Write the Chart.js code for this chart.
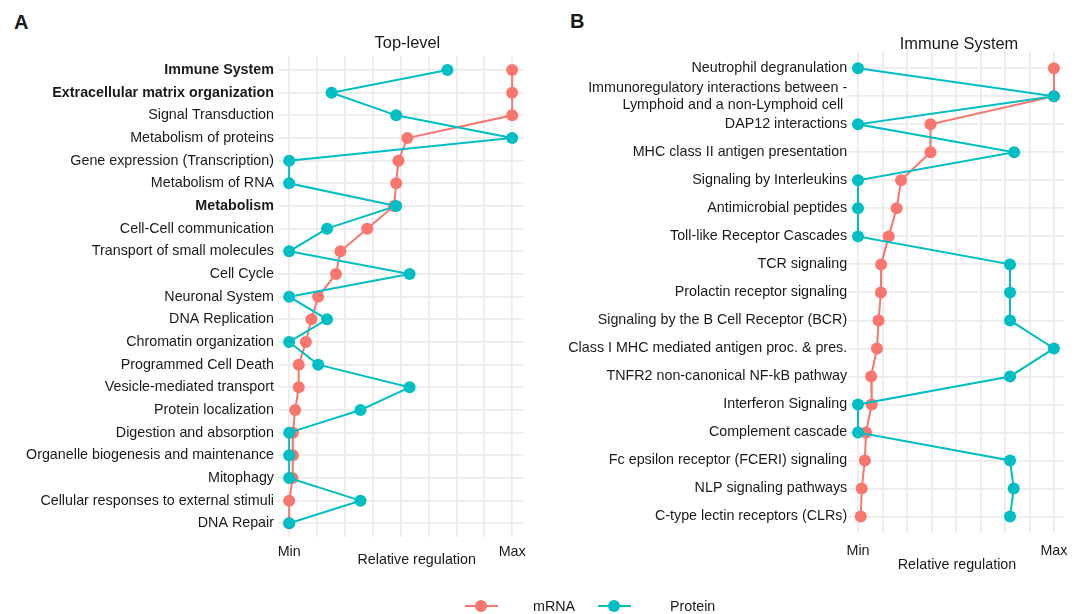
<!DOCTYPE html>
<html>
<head>
<meta charset="utf-8">
<title>Relative regulation</title>
<script src="https://cdn.jsdelivr.net/npm/chart.js@4.4.1/dist/chart.umd.min.js"></script>
<style>
    body {
        margin: 0;
        width: 1077px;
        height: 614px;
        overflow: hidden;
        position: relative;
        background: #fff;
        font-family: 'Liberation Sans', Arial, sans-serif;
        color: #1a1a1a;
    }
    canvas { position: absolute; top: 0; }
    #chartA { left: 0; }
    #chartB { left: 540px; }
    .tag {
        position: absolute;
        font-size: 20px;
        font-weight: bold;
        line-height: 20px;
    }
    .legend-item {
        position: absolute;
        top: 597px;
        height: 18px;
        font-size: 14.3px;
        line-height: 18px;
    }
    .swatch {
        position: absolute;
        top: 8px;
        width: 33px;
        height: 2px;
    }
    .swatch span {
        position: absolute;
        top: -5px;
        width: 12px;
        height: 12px;
        border-radius: 50%;
    }
</style>
</head>
<body>
<div class="tag" style="left:14px; top:12px;">A</div>
<div class="tag" style="left:570px; top:11px;">B</div>
<canvas id="chartA" width="540" height="614"></canvas>
<canvas id="chartB" width="537" height="614"></canvas>

<div class="legend-item" style="left:465px;">
    <div class="swatch" style="left:0; background:#F8766D;"><span style="left:10px; background:#F8766D;"></span></div>
    <div style="position:absolute; left:68px; white-space:nowrap;">mRNA</div>
</div>
<div class="legend-item" style="left:598px;">
    <div class="swatch" style="left:0; background:#00BFC4;"><span style="left:10px; background:#00BFC4;"></span></div>
    <div style="position:absolute; left:72px; white-space:nowrap;">Protein</div>
</div>

<script>
// Panel A: top-level pathways
const categoriesA = [
    'Immune System',
    'Extracellular matrix organization',
    'Signal Transduction',
    'Metabolism of proteins',
    'Gene expression (Transcription)',
    'Metabolism of RNA',
    'Metabolism',
    'Cell-Cell communication',
    'Transport of small molecules',
    'Cell Cycle',
    'Neuronal System',
    'DNA Replication',
    'Chromatin organization',
    'Programmed Cell Death',
    'Vesicle-mediated transport',
    'Protein localization',
    'Digestion and absorption',
    'Organelle biogenesis and maintenance',
    'Mitophagy',
    'Cellular responses to external stimuli',
    'DNA Repair'
];
const boldA = ['Immune System', 'Extracellular matrix organization', 'Metabolism'];
const mrnaA = [1, 1, 1, 0.53, 0.49, 0.48, 0.47, 0.35, 0.23, 0.21, 0.13, 0.10, 0.075, 0.043, 0.043, 0.027, 0.017, 0.017, 0.015, 0, 0];
const proteinA = [0.71, 0.19, 0.48, 1, 0, 0, 0.48, 0.17, 0, 0.54, 0, 0.17, 0, 0.13, 0.54, 0.32, 0, 0, 0, 0.32, 0];

// Panel B: immune system sub-pathways
const categoriesB = [
    'Neutrophil degranulation',
    ['Immunoregulatory interactions between -', 'Lymphoid and a non-Lymphoid cell '],
    'DAP12 interactions',
    'MHC class II antigen presentation',
    'Signaling by Interleukins',
    'Antimicrobial peptides',
    'Toll-like Receptor Cascades',
    'TCR signaling',
    'Prolactin receptor signaling',
    'Signaling by the B Cell Receptor (BCR)',
    'Class I MHC mediated antigen proc. & pres.',
    'TNFR2 non-canonical NF-kB pathway',
    'Interferon Signaling',
    'Complement cascade',
    'Fc epsilon receptor (FCERI) signaling',
    'NLP signaling pathways',
    'C-type lectin receptors (CLRs)'
];
const mrnaB = [1, 1, 0.37, 0.37, 0.22, 0.197, 0.157, 0.118, 0.117, 0.105, 0.097, 0.067, 0.07, 0.041, 0.035, 0.019, 0.014];
const proteinB = [0, 1, 0, 0.797, 0, 0, 0, 0.776, 0.776, 0.776, 1, 0.776, 0, 0, 0.776, 0.795, 0.776];

// x axis: Min..Max with light grid every eighth
const xTickValues = [0, 0.125, 0.25, 0.375, 0.5, 0.625, 0.75, 0.875, 1];
const xTickLabels = ['Min', '', '', '', '', '', '', '', 'Max'];

const COLORS = {
    mrna: '#F8766D',
    protein: '#00BFC4',
    grid: '#EBEBEB',
    text: '#1a1a1a'
};
const FONT = "'Liberation Sans', Arial, sans-serif";

Chart.defaults.font.family = FONT;
Chart.defaults.color = COLORS.text;

/**
 * Draws panel title and x axis title
 */
const panelText = {
    id: 'panelText',
    afterDraw(chart, args, opts) {
        const ctx = chart.ctx;
        ctx.save();
        ctx.fillStyle = COLORS.text;
        ctx.textAlign = 'center';
        ctx.textBaseline = 'middle';
        ctx.font = `16.4px ${FONT}`;
        ctx.fillText(opts.title, opts.titleX, opts.titleY);
        ctx.font = `14.3px ${FONT}`;
        ctx.fillText(opts.xTitle, opts.xTitleX, opts.xTitleY);
        ctx.restore();
    }
};

function series(label, values, color, order) {
    return {
        label: label,
        data: values.map((v, i) => ({ x: v, y: i })),
        borderColor: color,
        backgroundColor: color,
        borderWidth: 2,
        pointRadius: 6,
        pointHoverRadius: 6,
        pointBorderWidth: 0,
        tension: 0,
        clip: false,
        order: order
    };
}

function createPanel(canvasId, cats, mrna, protein, bold, box) {
    const ctx = document.getElementById(canvasId);
    return new Chart(ctx, {
        type: 'line',
        data: {
            datasets: [
                series('mRNA', mrna, COLORS.mrna, 1),
                series('Protein', protein, COLORS.protein, 0)
            ]
        },
        options: {
            responsive: false,
            animation: false,
            events: [],
            layout: {
                padding: { left: 0, right: box.padRight, top: box.top, bottom: 0 }
            },
            scales: {
                x: {
                    type: 'linear',
                    min: -0.05,
                    max: 1.05,
                    afterBuildTicks: scale => {
                        scale.ticks = xTickValues.map(v => ({ value: v }));
                    },
                    afterFit: scale => {
                        scale.height = box.xHeight;
                    },
                    grid: {
                        color: COLORS.grid,
                        lineWidth: 1.8,
                        drawTicks: false
                    },
                    border: { display: false },
                    ticks: {
                        autoSkip: false,
                        maxRotation: 0,
                        padding: box.xPad,
                        font: { size: 14.3 },
                        callback: value => xTickLabels[xTickValues.indexOf(value)]
                    }
                },
                y: {
                    type: 'linear',
                    reverse: true,
                    min: -0.6,
                    max: cats.length - 0.4,
                    afterBuildTicks: scale => {
                        scale.ticks = cats.map((c, i) => ({ value: i }));
                    },
                    afterFit: scale => {
                        scale.width = box.yWidth;
                    },
                    grid: {
                        color: COLORS.grid,
                        lineWidth: 1.8,
                        drawTicks: false
                    },
                    border: { display: false },
                    ticks: {
                        autoSkip: false,
                        padding: box.yPad,
                        font: context => ({
                            size: 14.3,
                            lineHeight: 1.2,
                            weight: bold.includes(cats[context.index]) ? 'bold' : 'normal'
                        }),
                        callback: value => cats[value]
                    }
                }
            },
            plugins: {
                legend: { display: false },
                tooltip: { enabled: false },
                panelText: {
                    title: box.title,
                    titleX: box.titleX,
                    titleY: box.titleY,
                    xTitle: 'Relative regulation',
                    xTitleX: box.xTitleX,
                    xTitleY: box.xTitleY
                }
            }
        },
        plugins: [panelText]
    });
}

createPanel('chartA', categoriesA, mrnaA, proteinA, boldA, {
    top: 56.4, padRight: 16.7, yWidth: 278, xHeight: 77.1, xPad: 7, yPad: 4,
    title: 'Top-level', titleX: 407.4, titleY: 43.3,
    xTitleX: 416.7, xTitleY: 560
});

createPanel('chartB', categoriesB, mrnaB, proteinB, [], {
    top: 51.5, padRight: 12.9, yWidth: 308.2, xHeight: 80.7, xPad: 9, yPad: 1,
    title: 'Immune System', titleX: 419, titleY: 44.3,
    xTitleX: 417, xTitleY: 565
});
</script>
</body>
</html>
